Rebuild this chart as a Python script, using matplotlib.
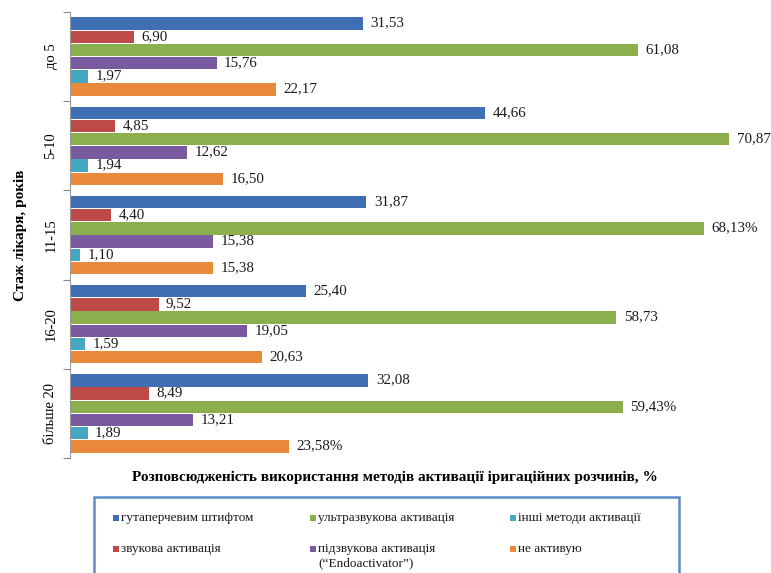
import matplotlib
matplotlib.use("Agg")
import matplotlib.pyplot as plt
from matplotlib.patches import Rectangle
import numpy as np

plt.rcParams['font.family'] = ['Liberation Serif', 'DejaVu Serif']

groups = ["до 5", "5-10", "11-15", "16-20", "більше 20"]
series = ["гутаперчевим штифтом", "звукова активація", "ультразвукова активація",
          "підзвукова активація\n(“Endoactivator”)", "інші методи активації", "не активую"]
colors = ["#3F6EB4", "#BE4A48", "#8BAF4C", "#7A5A9E", "#44A8C2", "#E9893A"]

gutta = [31.53, 44.66, 31.87, 25.40, 32.08]
sonic = [6.90, 4.85, 4.40, 9.52, 8.49]
ultra = [61.08, 70.87, 68.13, 58.73, 59.43]
subsonic = [15.76, 12.62, 15.38, 19.05, 13.21]
other = [1.97, 1.94, 1.10, 1.59, 1.89]
none_ = [22.17, 16.50, 15.38, 20.63, 23.58]
values = [gutta, sonic, ultra, subsonic, other, none_]

labels = [
    ["31,53", "44,66", "31,87", "25,40", "32,08"],
    ["6,90", "4,85", "4,40", "9,52", "8,49"],
    ["61,08", "70,87", "68,13%", "58,73", "59,43%"],
    ["15,76", "12,62", "15,38", "19,05", "13,21"],
    ["1,97", "1,94", "1,10", "1,59", "1,89"],
    ["22,17", "16,50", "15,38", "20,63", "23,58%"],
]

W, H = 771, 573
fig = plt.figure(figsize=(W / 100, H / 100), dpi=100)
X0 = 70
ax = fig.add_axes([X0 / W, 1 - 458 / H, (W - X0) / W, (458 - 12) / H])

pad = 5 / 89
h = (1 - 2 * pad) / 6
gpos = np.arange(len(groups))
for i, (vals, col) in enumerate(zip(values, colors)):
    y = gpos - 0.5 + pad + (i + 0.5) * h
    ax.barh(y, vals, height=h * 0.95, color=col, edgecolor='none')
    for yy, v, lab in zip(y, vals, labels[i]):
        ax.text(v + 0.8, yy - 0.005, lab, va='center', ha='left', fontsize=10.8, color='#1a1a1a')

ax.set_ylim(len(groups) - 0.5, -0.5)
ax.set_xlim(0, (W - X0) / 9.3)
ax.set_yticks(np.arange(-0.5, len(groups)), labels=[])
ax.set_yticks(gpos, labels=groups, minor=True)
ax.tick_params(axis='y', which='major', length=5, color='#888888', direction='out')
ax.tick_params(axis='y', which='minor', length=0, pad=9)
for t in ax.get_yticklabels(minor=True):
    t.set_rotation(90)
    t.set_va('center')
    t.set_fontsize(10.5)
ax.set_xticks([])
for s in ['top', 'right', 'bottom']:
    ax.spines[s].set_visible(False)
ax.spines['left'].set_color('#999999')

fig.text(20 / W, 1 - 235 / H, "Стаж лікаря, років", rotation=90, ha='center', va='center',
         fontsize=11, fontweight='bold')
fig.text(395 / W, 1 - 477 / H, "Розповсюдженість використання методів активації іригаційних розчинів, %",
         ha='center', va='center', fontsize=11, fontweight='bold')

# legend box (manual placement, clipped at the bottom edge like the reference)
fig.patches.append(Rectangle((94 / W, 1 - 590 / H), (679 - 94) / W, (590 - 497) / H,
                             transform=fig.transFigure, facecolor='white',
                             edgecolor='#5B8CC8', linewidth=1.8))
col_x = [113, 310, 510]
row_y = [518, 549]
for k, (name, col) in enumerate(zip(series, colors)):
    c, r = divmod(k, 2)
    sx, sy = col_x[c], row_y[r]
    fig.patches.append(Rectangle((sx / W, 1 - (sy + 3) / H), 6 / W, 6 / H,
                                 transform=fig.transFigure, facecolor=col, edgecolor='none'))
    fig.text((sx + 8) / W, 1 - (sy - 6) / H, name, ha='left', va='top', fontsize=9.5,
             color='#1a1a1a', linespacing=1.25)

fig.savefig("out.png", dpi=100)
